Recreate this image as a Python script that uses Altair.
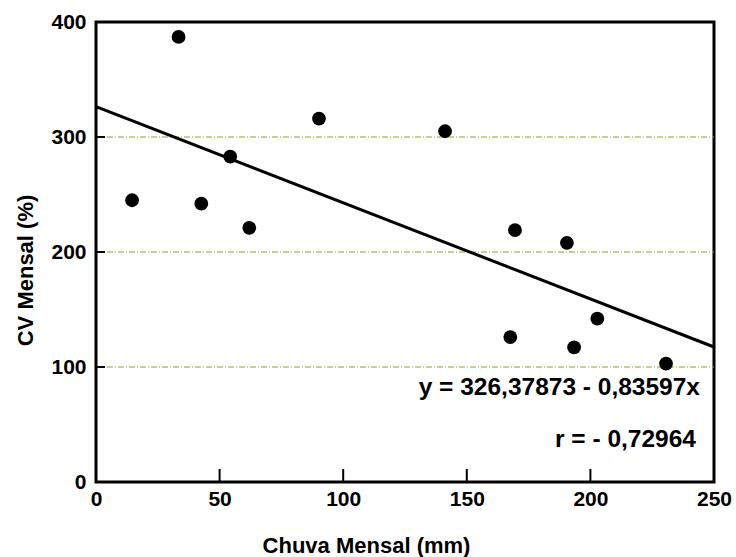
import altair as alt
import pandas as pd

# Data
chuva = [14.6, 33.4, 42.6, 54.3, 62.0, 90.2, 141.2, 167.6, 169.5, 190.5, 193.4, 202.8, 230.6]
cv = [245, 387, 242, 283, 221, 316, 305, 126, 219, 208, 117, 142, 103]

intercept = 326.37873
slope = -0.83597
line_x = [0, 250]

x_ticks = [0, 50, 100, 150, 200, 250]
y_ticks = [0, 100, 200, 300, 400]
inner_x_ticks = [50, 100, 150, 200]
grid_y = [100, 200, 300]

eq_text = "y = 326,37873 - 0,83597x"
r_text = "r = - 0,72964"

FONT = "Liberation Sans"
W, H = 618, 460

pts = pd.DataFrame({"chuva": chuva, "cv": cv})
ln = pd.DataFrame({"chuva": line_x, "cv": [intercept + slope * v for v in line_x]})

xs = alt.Scale(domain=[0, 250], nice=False, zero=False)
ys = alt.Scale(domain=[0, 400], nice=False, zero=False)

xaxis = alt.Axis(values=x_ticks, title="Chuva Mensal (mm)", grid=False, ticks=False,
                 domain=False, labelFont=FONT, labelFontSize=21, labelFontWeight="bold",
                 labelColor="black", labelPadding=6, titleFont=FONT, titleFontSize=22,
                 titleFontWeight="bold", titleColor="black",
                 titleX=270, titleY=63, titleBaseline="middle", titleAlign="center",
                 titleAnchor="start", labelFlush=False)
yaxis = alt.Axis(values=y_ticks, title="CV Mensal (%)", grid=False, ticks=False, domain=False,
                 labelFont=FONT, labelFontSize=21, labelFontWeight="bold", labelColor="black",
                 labelPadding=10, titleFont=FONT, titleFontSize=22, titleFontWeight="bold",
                 titleColor="black", titleX=-71, titleY=248, titleBaseline="middle",
                 titleAlign="center", titleAnchor="start", labelFlush=False)

grid = alt.Chart(pd.DataFrame({"v": grid_y})).mark_rule(
    color="#9a9a30", strokeWidth=1, strokeDash=[6, 2, 1, 2]
).encode(y=alt.Y("v:Q", scale=ys, axis=yaxis), x=alt.value(0), x2=alt.value(W))

points = alt.Chart(pts).mark_circle(size=190, color="black", opacity=1).encode(
    x=alt.X("chuva:Q", scale=xs, axis=xaxis),
    y=alt.Y("cv:Q", scale=ys, axis=yaxis),
)

line = alt.Chart(ln).mark_line(color="black", strokeWidth=3).encode(
    x=alt.X("chuva:Q", scale=xs),
    y=alt.Y("cv:Q", scale=ys),
)

xt = alt.Chart(pd.DataFrame({"v": inner_x_ticks})).mark_rule(color="black", strokeWidth=2).encode(
    x=alt.X("v:Q", scale=xs), y=alt.value(H), y2=alt.value(H - 13)
)
yt = alt.Chart(pd.DataFrame({"v": grid_y})).mark_rule(color="black", strokeWidth=2).encode(
    y=alt.Y("v:Q", scale=ys), x=alt.value(0), x2=alt.value(9)
)

eq = alt.Chart(pd.DataFrame({"t": [eq_text]})).mark_text(
    font=FONT, fontSize=24.5, fontWeight="bold", align="right", baseline="middle", color="black"
).encode(text="t:N", x=alt.value(604), y=alt.value(366))

rr = alt.Chart(pd.DataFrame({"t": [r_text]})).mark_text(
    font=FONT, fontSize=24.5, fontWeight="bold", align="right", baseline="middle", color="black"
).encode(text="t:N", x=alt.value(600), y=alt.value(418))

chart = alt.layer(grid, points, line, xt, yt, eq, rr).properties(
    width=W, height=H,
    autosize=alt.AutoSizeParams(type="none"),
    padding={"left": 96, "top": 22, "right": 22, "bottom": 75},
    background="white",
).configure_view(stroke="black", strokeWidth=3)

chart.save("out.html", embed_options={"renderer": "svg", "actions": False})
